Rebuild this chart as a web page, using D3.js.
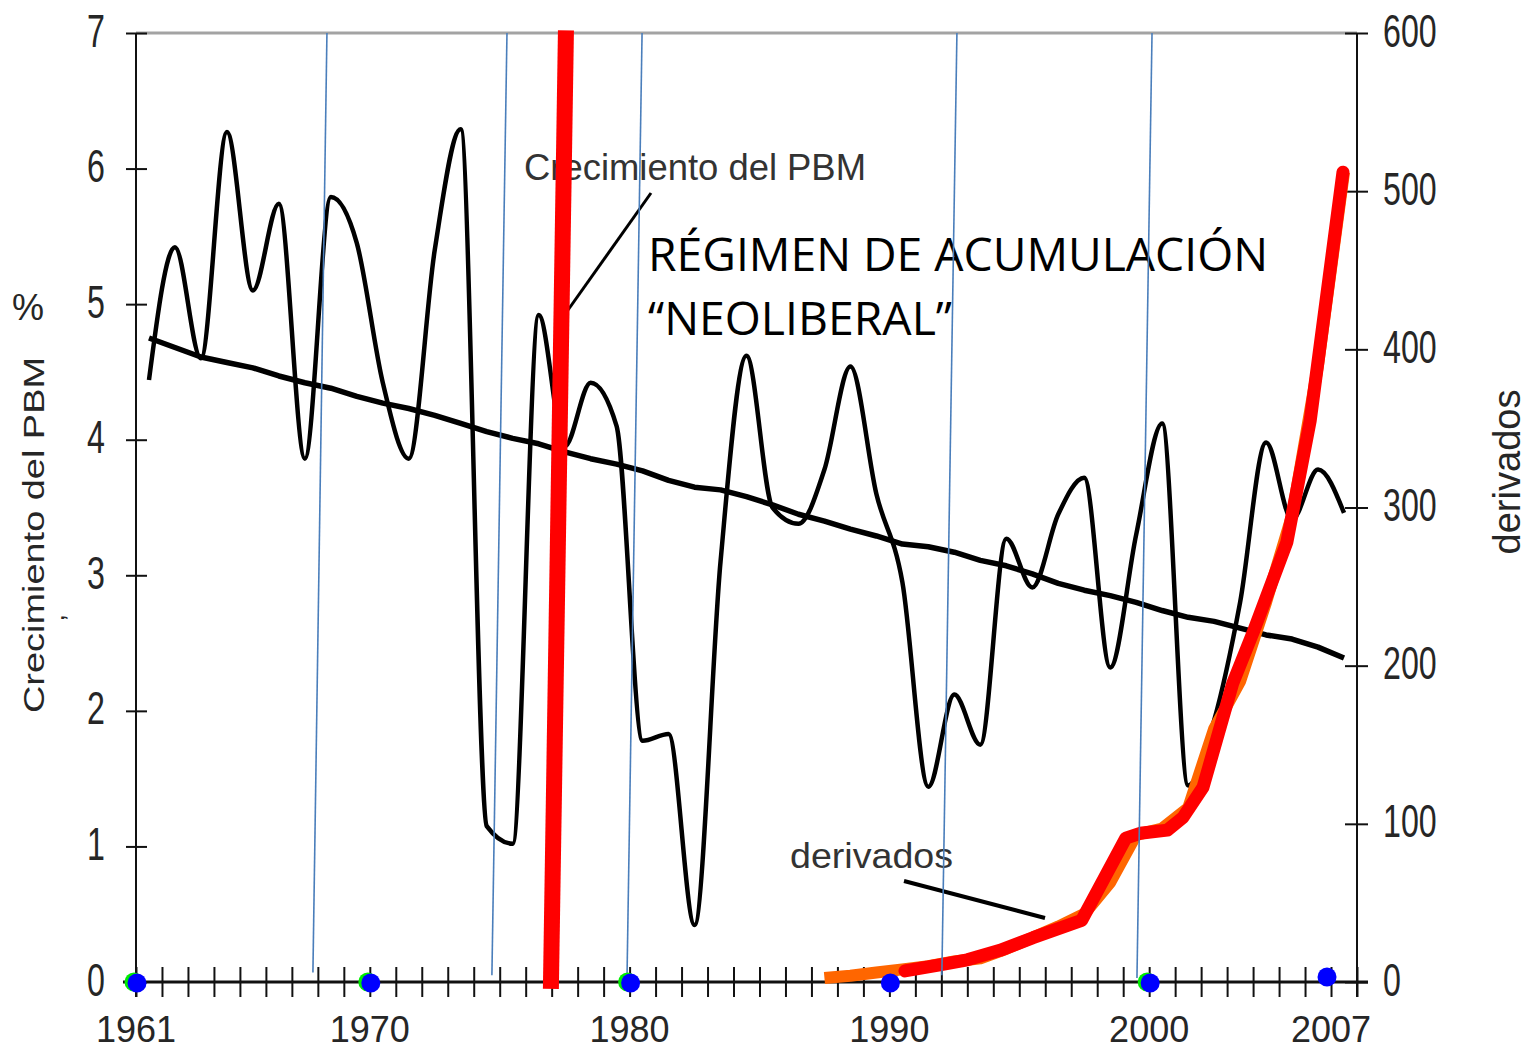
<!DOCTYPE html>
<html><head><meta charset="utf-8">
<script src="https://cdn.jsdelivr.net/npm/d3@7"></script>
<style>body{margin:0;background:#fff;} svg{display:block;}</style>
</head><body>
<svg id="c" width="1532" height="1051"></svg>
<script>
// ---------- data ----------
const years = [1961,1962,1963,1964,1965,1966,1967,1968,1969,1970,1971,1972,1973,1974,1975,1976,1977,1978,1979,1980,
  1981,1982,1983,1984,1985,1986,1987,1988,1989,1990,1991,1992,1993,1994,1995,1996,1997,1998,1999,2000,2001,2002,2003,2004,2005,2006,2007];
const gdpGrowth = [4.44,5.42,4.6,6.27,5.10,5.74,3.86,5.79,5.45,4.42,3.86,5.40,6.29,1.15,1.02,4.92,3.95,4.42,4.1,1.78,
  1.83,0.42,3.1,4.62,3.5,3.38,3.78,4.54,3.6,2.95,1.44,2.12,1.75,3.27,2.91,3.45,3.72,2.32,3.3,4.12,1.45,1.93,2.8,3.98,3.41,3.78,3.46];
const gdpTrend = [4.75,4.68,4.61,4.57,4.53,4.47,4.42,4.38,4.32,4.27,4.23,4.18,4.12,4.06,4.01,3.97,3.91,3.86,3.82,3.77,
  3.70,3.65,3.63,3.58,3.52,3.45,3.40,3.34,3.29,3.23,3.21,3.17,3.11,3.07,3.01,2.94,2.89,2.85,2.80,2.74,2.69,2.66,2.61,2.56,2.53,2.47,2.39];
const derivYears = [1987,1988,1989,1990,1991,1992,1993,1994,1995,1996,1997,1998,1999,2000,2001,2002,2003,2004,2005,2006,2007];
const derivados = [2.5,4,6,8,10,13,15,21,28,35,43,63,93,97,110,160,190,240,295,390,512];
const traceYears = [1990.6,1992.0,1993.0,1994.26,1995.53,1997.4,1999.1,1999.65,2000.7,2001.3,2002.07,2003.22,2004.0,2005.3,2006.2,2007.46];
const traceValues = [7,11,14,20,28,39,91,94,96,104,123,189,221,278,355,512];
const leftTicks = [0,1,2,3,4,5,6,7];
const rightTicks = [0,100,200,300,400,500,600];
const yearLabels = ["1961","1970","1980","1990","2000","2007"];
const markerYears = [1961,1970,1980,1990,2000,2007];
const markerHalo = [true,true,true,false,true,false];
const guideTop = [1968.35,1975.28,1980.48,1992.60,2000.11];
const guideBottom = [1967.81,1974.70,1979.90,1992.02,1999.53];
const guideBottomVal = [0.07,0.05,0.03,0.05,0.03];
const regimeTop = [1977.55, 7.02];
const regimeBottom = [1976.97, -0.05];

// ---------- scales ----------
const svg = d3.select("#c");
const x = d3.scaleLinear().domain([1961, 2008]).range([136, 1357]);
const yL = d3.scaleLinear().domain([0, 7]).range([982, 33]);
const yR = d3.scaleLinear().domain([0, 600]).range([982, 33]);
const FONT = "'Liberation Sans', Arial, sans-serif";
const TXT = "#262626";

// top frame line
svg.append("line").attr("x1", x(1961)).attr("x2", x(2008)).attr("y1", yL(7)).attr("y2", yL(7))
  .attr("stroke", "#a3a3a3").attr("stroke-width", 3);

// left axis
const gL = svg.append("g").attr("transform", `translate(${x(1961)},0)`)
  .call(d3.axisLeft(yL).tickValues(leftTicks).tickSize(10).tickFormat(d3.format("d")));
gL.select(".domain").remove();
gL.selectAll(".tick line").attr("x1", -10).attr("x2", 11).attr("stroke", "#111").attr("stroke-width", 2);
gL.selectAll(".tick text").attr("font-family", FONT).attr("font-size", 46).attr("fill", TXT)
  .attr("text-anchor", "end").attr("transform", "scale(0.70,1)").attr("x", -31 / 0.70).attr("dy", 13);
svg.append("line").attr("x1", x(1961)).attr("x2", x(1961)).attr("y1", yL(7)).attr("y2", 997)
  .attr("stroke", "#111").attr("stroke-width", 2);

// right axis
const gR = svg.append("g").attr("transform", `translate(${x(2008)},0)`)
  .call(d3.axisRight(yR).tickValues(rightTicks).tickSize(11).tickFormat(d3.format("d")));
gR.select(".domain").remove();
gR.selectAll(".tick line").attr("x1", -12).attr("x2", 11).attr("stroke", "#111").attr("stroke-width", 2);
gR.selectAll(".tick text").attr("font-family", FONT).attr("font-size", 46).attr("fill", TXT)
  .attr("text-anchor", "start").attr("transform", "scale(0.70,1)").attr("x", 26 / 0.70).attr("dy", 13);
svg.append("line").attr("x1", x(2008)).attr("x2", x(2008)).attr("y1", yR(600)).attr("y2", 997)
  .attr("stroke", "#111").attr("stroke-width", 2);

// bottom axis (yearly ticks)
const tickYears = years.concat([2008]);
const gB = svg.append("g").attr("transform", `translate(0,${yL(0)})`)
  .call(d3.axisBottom(x).tickValues(tickYears).tickSize(15).tickFormat(""));
gB.select(".domain").remove();
gB.selectAll(".tick line").attr("y1", -15).attr("y2", 15).attr("stroke", "#111").attr("stroke-width", 2);
svg.append("line").attr("x1", 123).attr("x2", 1368).attr("y1", yL(0)).attr("y2", yL(0))
  .attr("stroke", "#111").attr("stroke-width", 3);

// year labels
svg.append("g").selectAll("text").data(yearLabels).join("text")
  .attr("x", d => x(+d)).attr("y", 1042).attr("text-anchor", "middle")
  .attr("font-family", FONT).attr("font-size", 36).attr("fill", TXT).text(d => d);

// GDP growth + trend
const mid = y => x(y + 0.5);
const gdpLine = d3.line().x((d, i) => mid(years[i])).y(d => yL(d)).curve(d3.curveMonotoneX);
svg.append("path").attr("d", gdpLine(gdpGrowth)).attr("fill", "none").attr("stroke", "#000")
  .attr("stroke-width", 4.5).attr("stroke-linejoin", "round");
const trendLine = d3.line().x((d, i) => mid(years[i])).y(d => yL(d)).curve(d3.curveLinear);
svg.append("path").attr("d", trendLine(gdpTrend)).attr("fill", "none").attr("stroke", "#000")
  .attr("stroke-width", 5.5).attr("stroke-linejoin", "round");

// derivados (orange series) and red trace
const dLine = d3.line().x((d, i) => mid(derivYears[i])).y(d => yR(d));
svg.append("path").attr("d", dLine(derivados)).attr("fill", "none").attr("stroke", "#ff6600")
  .attr("stroke-width", 12).attr("stroke-linejoin", "round");
const tLine = d3.line().x((d, i) => x(traceYears[i])).y(d => yR(d));
svg.append("path").attr("d", tLine(traceValues)).attr("fill", "none").attr("stroke", "#ff0000")
  .attr("stroke-width", 13).attr("stroke-linejoin", "round").attr("stroke-linecap", "round");

// annotation texts
svg.append("text").attr("x", 524).attr("y", 180).attr("font-family", FONT).attr("font-size", 37)
  .attr("fill", "#333").attr("textLength", 342).attr("lengthAdjust", "spacingAndGlyphs").text("Crecimiento del PBM");
svg.append("line").attr("x1", 651).attr("y1", 193).attr("x2", 568).attr("y2", 310)
  .attr("stroke", "#000").attr("stroke-width", 3);
svg.append("text").attr("x", 790).attr("y", 868).attr("font-family", FONT).attr("font-size", 35)
  .attr("fill", "#333").attr("textLength", 163).attr("lengthAdjust", "spacingAndGlyphs").text("derivados");
svg.append("line").attr("x1", 904).attr("y1", 881).attr("x2", 1045).attr("y2", 918)
  .attr("stroke", "#000").attr("stroke-width", 4);

// big annotation
const BIG = "'Open Sans', 'Noto Sans', sans-serif";
svg.append("text").attr("x", 648).attr("y", 271).attr("font-family", BIG).attr("font-size", 46)
  .attr("fill", "#000").attr("textLength", 620).attr("lengthAdjust", "spacingAndGlyphs").text("RÉGIMEN DE ACUMULACIÓN");
svg.append("text").attr("x", 648).attr("y", 335).attr("font-family", BIG).attr("font-size", 46)
  .attr("fill", "#000").attr("textLength", 304).attr("lengthAdjust", "spacingAndGlyphs").text("“NEOLIBERAL”");

// blue guide lines
svg.append("g").selectAll("line").data(guideTop).join("line")
  .attr("x1", d => x(d)).attr("y1", yL(7))
  .attr("x2", (d, i) => x(guideBottom[i])).attr("y2", (d, i) => yL(guideBottomVal[i]))
  .attr("stroke", "#4a7ebb").attr("stroke-width", 1.6);

// red regime line
svg.append("line").attr("x1", x(regimeTop[0])).attr("y1", yL(regimeTop[1]))
  .attr("x2", x(regimeBottom[0])).attr("y2", yL(regimeBottom[1]))
  .attr("stroke", "#ff0000").attr("stroke-width", 16);

// markers on x axis
const mk = svg.append("g");
mk.selectAll("circle.h").data(markerYears.filter((d, i) => markerHalo[i])).join("circle").attr("class", "h")
  .attr("cx", d => x(d) - 2).attr("cy", yL(0)).attr("r", 9.5).attr("fill", "#00ee00");
mk.selectAll("circle.m").data(markerYears).join("circle").attr("class", "m")
  .attr("cx", d => x(d) + (d === 2007 ? -4 : 1)).attr("cy", d => d === 2007 ? yL(0) - 5 : yL(0) + 1)
  .attr("r", 9.5).attr("fill", "#0000ff");

// axis titles
svg.append("text").attr("transform", "translate(44,535) rotate(-90)").attr("text-anchor", "middle")
  .attr("font-family", FONT).attr("font-size", 30).attr("fill", TXT)
  .attr("textLength", 356).attr("lengthAdjust", "spacingAndGlyphs").text("Crecimiento del PBM");
svg.append("text").attr("x", 28).attr("y", 320).attr("text-anchor", "middle")
  .attr("font-family", FONT).attr("font-size", 36).attr("fill", TXT).text("%");
svg.append("text").attr("transform", "translate(64,618) rotate(-90)").attr("text-anchor", "middle")
  .attr("font-family", FONT).attr("font-size", 26).attr("fill", TXT).text(",");
svg.append("text").attr("transform", "translate(1520,472) rotate(-90)").attr("text-anchor", "middle")
  .attr("font-family", FONT).attr("font-size", 38).attr("fill", TXT)
  .attr("textLength", 165).attr("lengthAdjust", "spacingAndGlyphs").text("derivados");
</script>
</body></html>
